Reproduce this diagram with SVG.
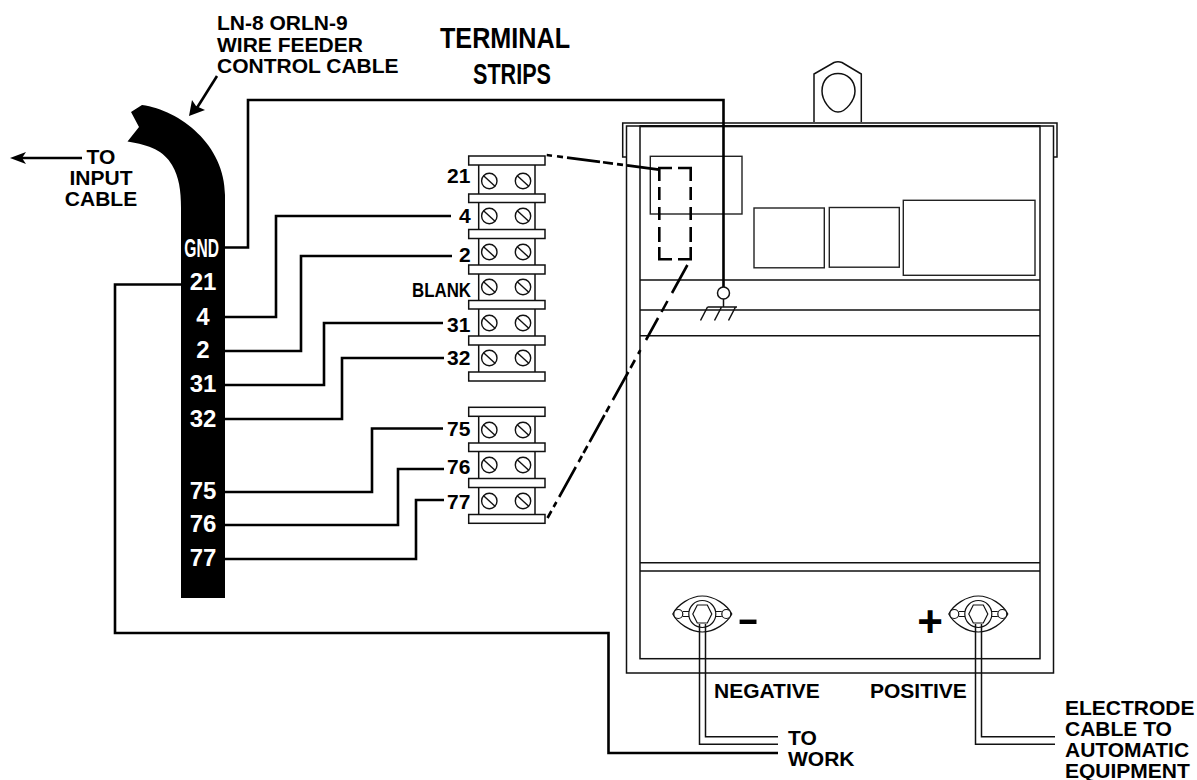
<svg xmlns="http://www.w3.org/2000/svg" width="1197" height="780" viewBox="0 0 1197 780">
<style>
text{font-family:"Liberation Sans",Arial,sans-serif;font-weight:bold;fill:#000}
.l{font-size:21px}.m{font-size:21px}.w{fill:#fff;font-size:24px;text-anchor:middle}
.c{text-anchor:middle}
.wire{fill:none;stroke:#000;stroke-width:2.6}
.thin{fill:none;stroke:#111;stroke-width:1.5}
.box{fill:none;stroke:#222;stroke-width:1.4}
.bar{fill:#fff;stroke:#111;stroke-width:1.5}
.dash{fill:none;stroke:#000;stroke-width:2.6}
.a{fill:#000}
</style>
<defs>
<g id="screw"><circle r="7.700" fill="#fff" stroke="#111" stroke-width="1.400"/><line x1="-6" y1="-5.500" x2="6" y2="5.500" stroke="#111" stroke-width="1.400"/></g>
<g id="cell"><rect x="478.700" y="0" width="56.300" height="36" fill="#fff" stroke="#111" stroke-width="1.500"/></g>
<g id="stud">
<path d="M-29.500 0C-25-9-12-18 0-18C12-18 25-9 29.500 0C25 9 12 18 0 18C-12 18-25 9-29.500 0Z" fill="#fff" stroke="#111" stroke-width="1.200"/>
<circle cx="-24" cy="0" r="4.500" fill="#fff" stroke="#111" stroke-width="1.200"/><circle cx="24" cy="0" r="4.500" fill="#fff" stroke="#111" stroke-width="1.200"/>
<path d="M-19.500-2.500H-13M-19.500 2.500H-13M19.500-2.500H13M19.500 2.500H13" stroke="#111" stroke-width="1.200"/>
<circle r="13.500" fill="#fff" stroke="#111" stroke-width="1.200"/>
<path d="M-5-9H5L9.500 0L5 9H-5L-9.500 0Z" fill="#fff" stroke="#111" stroke-width="1.200"/>
</g>
</defs>

<g id="enclosure">
<path class="thin" d="M814 122V74L834 62.500Q838 61 842 62.500L861.300 74V122"/>
<path class="thin" d="M838 73.500C847 73.500 855 80 855 91C855 100 846 112 838 112C830 112 822 100 822 91C822 80 829 73.500 838 73.500Z"/>
<path class="thin" d="M626.500 157H622.700V123H1057V157H1053.500"/>
<rect class="thin" x="626.500" y="126" width="427" height="547"/>
<rect x="640" y="125" width="400" height="2.300" fill="#000"/>
<rect class="thin" x="640" y="126" width="400" height="532.700"/>
<path class="thin" d="M640 280H1040M640 310H1040M640 335.700H1040M640 562.700H1040M640 571H1040"/>
<rect class="box" x="650.300" y="156.300" width="91.700" height="57.700"/>
<rect class="box" x="754" y="208" width="70.300" height="59.800"/>
<rect class="box" x="829.300" y="207.500" width="70" height="59.700"/>
<rect class="box" x="903.300" y="200.300" width="131.700" height="75"/>
</g>

<g id="cable">
<path class="a" d="M142 105L131 112L139 127L127.500 141.500C150 145 164 151 172 165C179 177 181 190 181 208V598H225V195C225 145 180 110 142 105Z"/>
<text transform="translate(201.700 257) scale(.6 1)" text-anchor="middle" style="fill:#fff;font-size:26px">GND</text>
<text class="w" x="203" y="290">21</text>
<text class="w" x="203" y="325">4</text>
<text class="w" x="203" y="358">2</text>
<text class="w" x="203" y="392">31</text>
<text class="w" x="203" y="427">32</text>
<text class="w" x="203" y="499">75</text>
<text class="w" x="203" y="532">76</text>
<text class="w" x="203" y="566">77</text>
</g>

<g id="terminal-strip-1">
<use href="#cell" y="160"/><use href="#cell" y="198"/><use href="#cell" y="234"/><use href="#cell" y="269"/><use href="#cell" y="305"/><use href="#cell" y="340"/>
<rect class="bar" x="468.700" y="156" width="76.300" height="9"/>
<rect class="bar" x="468.700" y="194" width="76.300" height="8.500"/>
<rect class="bar" x="468.700" y="229.500" width="76.300" height="9"/>
<rect class="bar" x="468.700" y="265" width="76.300" height="9"/>
<rect class="bar" x="468.700" y="300.500" width="76.300" height="8.500"/>
<rect class="bar" x="468.700" y="336" width="76.300" height="9"/>
<rect class="bar" x="468.700" y="372" width="76.300" height="9"/>
<use href="#screw" x="489.300" y="181"/><use href="#screw" x="523" y="181"/>
<use href="#screw" x="489.300" y="216"/><use href="#screw" x="523" y="216"/>
<use href="#screw" x="489.300" y="252"/><use href="#screw" x="523" y="252"/>
<use href="#screw" x="489.300" y="287"/><use href="#screw" x="523" y="287"/>
<use href="#screw" x="489.300" y="323"/><use href="#screw" x="523" y="323"/>
<use href="#screw" x="489.300" y="358"/><use href="#screw" x="523" y="358"/>
</g>
<g id="terminal-strip-2">
<use href="#cell" y="412"/><use href="#cell" y="447"/><use href="#cell" y="483"/>
<rect class="bar" x="468.700" y="407.300" width="76.300" height="9"/>
<rect class="bar" x="468.700" y="443" width="76.300" height="8.500"/>
<rect class="bar" x="468.700" y="478.500" width="76.300" height="9"/>
<rect class="bar" x="468.700" y="514.500" width="76.300" height="8.800"/>
<use href="#screw" x="489.300" y="430"/><use href="#screw" x="523" y="430"/>
<use href="#screw" x="489.300" y="465"/><use href="#screw" x="523" y="465"/>
<use href="#screw" x="489.300" y="501"/><use href="#screw" x="523" y="501"/>
</g>

<g id="studs">
<use href="#stud" x="702.300" y="614"/>
<use href="#stud" x="978.300" y="614"/>
</g>

<g id="connectors">
<path class="wire" d="M225 247.500H248V100H723.500V287"/>
<path class="wire" d="M181 284.500H115V633H608.500V753H778"/>
<path class="wire" d="M225 317H276V216H451"/>
<path class="wire" d="M225 351H301V256H452"/>
<path class="wire" d="M225 385H324V323H443"/>
<path class="wire" d="M225 419H342V358H444"/>
<path class="wire" d="M225 492H372V428.500H443"/>
<path class="wire" d="M225 525H398V469H444"/>
<path class="wire" d="M225 559H416V500H444"/>
<path class="thin" d="M699.500 624V744.300H778M705.500 624V736.700H778"/>
<path class="thin" d="M975.500 624V744.300H1055M981.500 624V736.700H1055"/>
<path class="dash" d="M546.700 155L552 155.700M557 156.300L563 157.100M567 157.600L600 161.900M603 162.300L613 163.600M617 164.100L623 164.900M627 165.400L659 169.600"/>
<path class="dash" d="M659.300 181V168H672M678 168H690.700V181M659.300 187V200M659.300 207V220M659.300 227V242M659.300 247V259.300H672M678 259.300H690.700V247M690.700 242V227M690.700 220V207M690.700 200V187"/>
<path class="dash" d="M687.400 265L672 293M667.500 301L661.500 312M658.100 318L646 340M640.400 350L638.200 354M634.900 360L630.500 368M628.300 372L612.800 400M609.500 406L606.200 412M604.500 415L589.600 442M587.400 446L583.500 453M581.900 456L578.600 462M575.800 467L559.200 497M556.400 502L553.600 507M551.400 511L547.500 518"/>
<path class="wire" d="M217 76L195 111"/><path class="a" d="M189 116L192 100L196 106L205 110Z"/>
<path class="wire" d="M82 158H18"/><path class="a" d="M10 158L26 152L22 158L26 164Z"/>
</g>

<g id="ground">
<circle cx="723.500" cy="293" r="6" fill="#fff" stroke="#111" stroke-width="1.500"/>
<path class="thin" d="M723.500 299V307M707.500 307H737M707.500 307L700.500 320.500M721.500 307L714.500 320.500M735.500 307L728.500 320.500"/>
</g>

<g id="labels">
<text class="m" x="217" y="30">LN-8 ORLN-9</text>
<text class="m" x="217" y="51.500">WIRE FEEDER</text>
<text class="m" x="217" y="73">CONTROL CABLE</text>
<text class="m c" x="101" y="164">TO</text>
<text class="m c" x="101" y="185">INPUT</text>
<text class="m c" x="101" y="206">CABLE</text>
<text x="505" y="48" text-anchor="middle" textLength="130" lengthAdjust="spacingAndGlyphs" style="font-size:30px">TERMINAL</text>
<text x="512" y="84" text-anchor="middle" textLength="78" lengthAdjust="spacingAndGlyphs" style="font-size:30px">STRIPS</text>
<text class="l" x="447" y="183">21</text>
<text class="l" x="459" y="222.500">4</text>
<text class="l" x="459" y="262">2</text>
<text x="412" y="296.500" textLength="59" lengthAdjust="spacingAndGlyphs" style="font-size:21px">BLANK</text>
<text class="l" x="447" y="332">31</text>
<text class="l" x="447" y="365">32</text>
<text class="l" x="447" y="436">75</text>
<text class="l" x="447" y="474">76</text>
<text class="l" x="447" y="509">77</text>
<text class="m" x="714" y="698">NEGATIVE</text>
<text class="m" x="870" y="698">POSITIVE</text>
<text class="m" x="788" y="745">TO</text>
<text class="m" x="788" y="766">WORK</text>
<text class="m" x="1065" y="715">ELECTRODE</text>
<text class="m" x="1065" y="736">CABLE TO</text>
<text class="m" x="1065" y="757">AUTOMATIC</text>
<text class="m" x="1065" y="778">EQUIPMENT</text>
<text transform="translate(748 631) scale(1.850 1)" text-anchor="middle" style="font-size:36px">-</text>
<text x="930" y="637" text-anchor="middle" style="font-size:44px">+</text>
</g>
</svg>
